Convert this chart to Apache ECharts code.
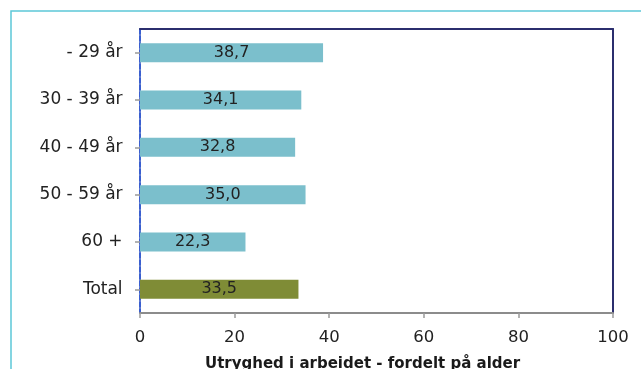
<!DOCTYPE html>
<html>
<head>
<meta charset="utf-8">
<script src="https://cdn.jsdelivr.net/npm/echarts@6/dist/echarts.min.js"></script>
<style>
  html, body { margin: 0; padding: 0; background: #ffffff; }
  #chart { width: 641px; height: 369px; }
</style>
</head>
<body>
<div id="chart"></div>
<script>
// Age groups and the share (%) reporting insecurity at work
const categories = ['- 29 år ', '30 - 39 år ', '40 - 49 år ', '50 - 59 år ', '60 + ', 'Total '];
const values = [38.7, 34.1, 32.8, 35.0, 22.3, 33.5];
const totalCategory = 'Total ';
const xTicks = [0, 20, 40, 60, 80, 100];
const axisTitle = 'Utryghed i arbeidet - fordelt på alder';

const groupColor = '#7bbfcc';
const totalColor = '#7f8c36';
const font = 'DejaVu Sans';

const chart = echarts.init(document.getElementById('chart'), null, { renderer: 'canvas' });

const barData = values.map((v, i) => ({
  value: v,
  itemStyle: { color: categories[i] === totalCategory ? totalColor : groupColor }
}));

chart.setOption({
  animation: false,
  backgroundColor: '#ffffff',
  textStyle: { fontFamily: font },
  grid: {
    left: 140, right: 28, top: 29, bottom: 56,
    show: true, borderColor: '#9a9a9a', borderWidth: 1, backgroundColor: 'transparent'
  },
  graphic: [
    {
      type: 'rect', silent: true, z: -1,
      shape: { x: 11, y: 11, width: 720, height: 420 },
      style: { fill: 'none', stroke: '#5cc8d8', lineWidth: 1.5 }
    },
    {
      type: 'text', left: 205, top: 357,
      style: { text: axisTitle, font: 'bold 15px "DejaVu Sans"', fill: '#1a1a1a' }
    }
  ],
  xAxis: [
    {
      type: 'value', position: 'bottom',
      min: xTicks[0], max: xTicks[xTicks.length - 1], interval: 20,
      axisLine: { show: true, onZero: false, lineStyle: { color: '#8c8c8c', width: 2 } },
      axisTick: { show: true, length: 5, lineStyle: { color: '#9a9a9a', width: 1.5 } },
      axisLabel: { fontSize: 16.5, color: '#222', margin: 16, fontFamily: font },
      splitLine: { show: false }
    },
    {
      type: 'value', position: 'top',
      min: xTicks[0], max: xTicks[xTicks.length - 1], interval: 20,
      axisLine: { show: true, onZero: false, lineStyle: { color: '#2b2e6e', width: 2 } },
      axisTick: { show: false }, axisLabel: { show: false }, splitLine: { show: false }
    }
  ],
  yAxis: [
    {
      type: 'category', data: categories, inverse: true, position: 'left',
      axisLine: { show: true, onZero: false, lineStyle: { color: '#3a5fd0', width: 2, type: [5, 2] } },
      axisTick: { show: true, alignWithLabel: true, length: 5, lineStyle: { color: '#9a9a9a', width: 1.5 } },
      axisLabel: { fontSize: 17, color: '#222', margin: 12, fontFamily: font },
      splitLine: { show: false }
    },
    {
      type: 'category', data: categories, inverse: true, position: 'right',
      axisLine: { show: true, onZero: false, lineStyle: { color: '#2b2e6e', width: 2 } },
      axisTick: { show: false }, axisLabel: { show: false }, splitLine: { show: false }
    }
  ],
  series: [
    {
      type: 'bar', xAxisIndex: 0, yAxisIndex: 0,
      data: barData, barWidth: 19,
      label: {
        show: true, position: 'inside', color: '#222', fontSize: 16, fontFamily: font,
        formatter: p => p.value.toFixed(1).replace('.', ',')
      }
    }
  ]
});
</script>
</body>
</html>
